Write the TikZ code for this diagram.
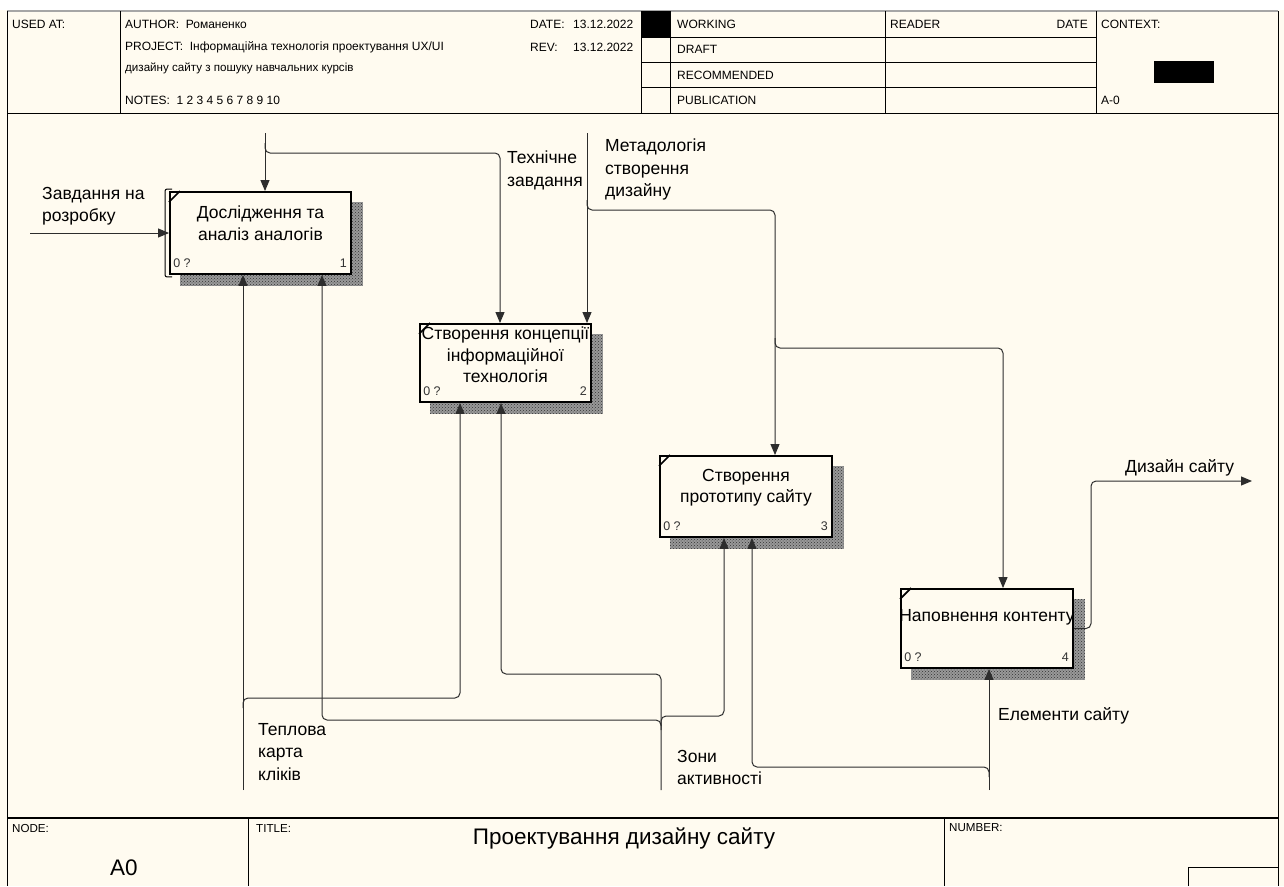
\documentclass[tikz,border=0pt]{standalone}
\usepackage{fontspec}
\setmainfont{Liberation Sans}
\usetikzlibrary{arrows.meta,patterns,calc}
\definecolor{paper}{RGB}{255,251,240}
\definecolor{wire}{RGB}{45,45,45}
\pgfdeclarelayer{bg}
\pgfsetlayers{bg,main}
\tikzset{
  wire/.style={draw=wire,line width=1pt,rounded corners=5pt},
  arr/.style={wire,-{Triangle[length=11pt,width=9pt]}},
  procbox/.style={draw=black,line width=1.9pt,fill=paper,inner sep=0pt},
  shade/.style={fill=black!40,postaction={pattern=crosshatch dots,pattern color=black!80}},
  boxtext/.style={font=\fontsize{17.5}{21.5}\selectfont,align=center,inner sep=0pt},
  lbl/.style={font=\fontsize{17.5}{22.5}\selectfont,align=left,inner sep=0pt,anchor=north west},
  tiny/.style={font=\fontsize{12.5}{14}\selectfont,inner sep=0pt,text=black!80},
  hdr/.style={font=\fontsize{12}{14}\selectfont,inner sep=0pt,anchor=west},
  hdrs/.style={font=\fontsize{11.6}{13}\selectfont,inner sep=0pt,anchor=west},
  frameline/.style={draw=black,line width=0.9pt},
  corner/.style={draw=black,line width=1.6pt},
}
\begin{document}
\begin{tikzpicture}[x=1pt,y=-1pt]
\useasboundingbox (0,0) rectangle (1284,886);
% boxes
\node[procbox,minimum width=181pt,minimum height=82pt] (b1) at (260.5,233) {};
\node[procbox,minimum width=171pt,minimum height=78pt] (b2) at (505.5,363) {};
\node[procbox,minimum width=172pt,minimum height=81pt] (b3) at (746,496.5) {};
\node[procbox,minimum width=172pt,minimum height=79pt] (b4) at (987,628.5) {};
\begin{pgfonlayer}{bg}
\fill[paper] (0,0) rectangle (1284,886);
\fill[white] (0,0) rectangle (1284,10);
\foreach \b in {b1,b2,b3,b4}{
  \fill[shade] ($(\b.south west)+(11,11)$) rectangle ($(\b.north east)+(11,11)$);
}
\end{pgfonlayer}
% box texts
\node[boxtext] (t1) at ($(b1.center)+(0,-10)$) {Дослідження та\\аналіз аналогів};
\node[boxtext] (t2) at ($(b2.center)+(0,-8)$) {Створення концепції\\інформаційної\\технологія};
\node[boxtext] (t3) at ($(b3.center)+(0,-9)$) {Створення\\прототипу сайту};
\node[boxtext] (t4) at ($(b4.center)+(0,-11)$) {Наповнення контенту};
\foreach \b/\n in {b1/1,b2/2,b3/3,b4/4}{
  \node[tiny,anchor=south west] (z\n) at ($(\b.south west)+(4,-7)$) {0 ?};
  \node[tiny,anchor=south east] (n\n) at ($(\b.south east)+(-5,-7)$) {\n};
  \draw[corner] ($(\b.north west)+(0,11)$) -- ($(\b.north west)+(11,0)$);
}
% bracket on box 1
\draw[black,line width=1pt,rounded corners=2pt] ($(b1.north west)+(3,-2)$) -- ($(b1.north west)+(-4,-2)$) -- ($(b1.south west)+(-4,2)$) -- ($(b1.south west)+(3,2)$);

% frame
\draw[gray!70,line width=2pt] (7,11) -- (1278,11);
\draw[frameline] (7,11) -- (7,886);
\draw[frameline] (1278,11) -- (1278,886);
\draw[frameline] (7,113) -- (1278,113);
\foreach \x in {120,641,670,885,1096}{\draw[frameline] (\x,11) -- (\x,113);}
\foreach \y in {37,62,87}{\draw[frameline] (641,\y) -- (1096,\y);}
\fill[black] (641,11) rectangle (670,37);
\fill[black] (1154,61) rectangle (1214,83);
\draw[frameline,line width=1.4pt] (7,818) -- (1278,818);
\draw[frameline] (248,818) -- (248,886);
\draw[frameline] (944,818) -- (944,886);
\draw[frameline] (1188,886) -- (1188,867) -- (1278,867);

% header texts
\node[hdr] (h1) at (12,24) {USED AT:};
\node[hdr] (h2) at (125,24) {AUTHOR:\ \ Романенко};
\node[hdr] (h3) at (125,47) {PROJECT:\ \ {\fontsize{12}{14}\selectfont Інформаційна технологія проектування UX/UI}};
\node[hdrs] (h4) at (125,68) {дизайну сайту з пошуку навчальних курсів};
\node[hdr] (h5) at (125,100) {NOTES:\ \ 1\ 2\ 3\ 4\ 5\ 6\ 7\ 8\ 9\ 10};
\node[hdr] (h6) at (530,24) {DATE:};
\node[hdr] (h7) at (573,24) {13.12.2022};
\node[hdr] (h8) at (530,47) {REV:};
\node[hdr] (h9) at (573,47) {13.12.2022};
\node[hdr] (h10) at (677,24) {WORKING};
\node[hdr] (h11) at (677,49) {DRAFT};
\node[hdr] (h12) at (677,75) {RECOMMENDED};
\node[hdr] (h13) at (677,100) {PUBLICATION};
\node[hdr] (h14) at (890,24) {READER};
\node[hdr,anchor=east] (h15) at (1088,24) {DATE};
\node[hdr] (h16) at (1101,24) {CONTEXT:};
\node[hdr] (h17) at (1101,100) {A-0};
% footer texts
\node[hdrs] (f1) at (12,828) {NODE:};
\node[hdrs] (f2) at (256,828) {TITLE:};
\node[hdrs] (f3) at (949,828) {NUMBER:};
\node[font=\fontsize{22.5}{26}\selectfont,inner sep=0pt] (f4) at (124,868) {A0};
\node[font=\fontsize{22.5}{26}\selectfont,inner sep=0pt] (f5) at (624,838) {Проектування дизайну сайту};

% connectors
\coordinate (in1) at (30,233);
\draw[arr] (in1) -- (b1.west);
\draw[arr] (265,133) -- (265,0 |- b1.north);
\draw[arr] (265,143) -- (265,153) -- (500,153) -- (500,0 |- b2.north);
\draw[arr] (587,133) -- (587,0 |- b2.north);
\draw[arr] (587,200) -- (587,210) -- (775,210) -- (775,0 |- b3.north);
\draw[arr] (775,338) -- (775,348) -- (1003,348) -- (1003,0 |- b4.north);
\draw[arr] (243,790) -- (243,0 |- b1.south);
\draw[arr] (243,708) -- (243,698) -- (460,698) -- (460,0 |- b2.south);
\draw[arr] (661,790) -- (661,674) -- (501,674) -- (501,0 |- b2.south);
\draw[arr] (661,730) -- (661,720) -- (322,720) -- (322,0 |- b1.south);
\draw[arr] (661,726) -- (661,716) -- (724,716) -- (724,0 |- b3.south);
\draw[arr] (989,790) -- (989,0 |- b4.south);
\draw[arr] (989,777) -- (989,767) -- (752,767) -- (752,0 |- b3.south);
\coordinate (out1) at (1252,481);
\draw[arr] (b4.east) -- (1091,628.5) -- (1091,481) -- (out1);

% labels
\node[lbl] (l1) at (42,187) {Завдання на\\розробку};
\node[lbl] (l2) at (507,151) {Технічне\\завдання};
\node[lbl] (l3) at (605,139) {Метадологія\\створення\\дизайну};
\node[lbl] (l4) at (258,723) {Теплова\\карта\\кліків};
\node[lbl] (l5) at (677,750) {Зони\\активності};
\node[lbl] (l6) at (998,707) {Елементи сайту};
\node[lbl] (l7) at (1125,459) {Дизайн сайту};
\end{tikzpicture}
\end{document}
